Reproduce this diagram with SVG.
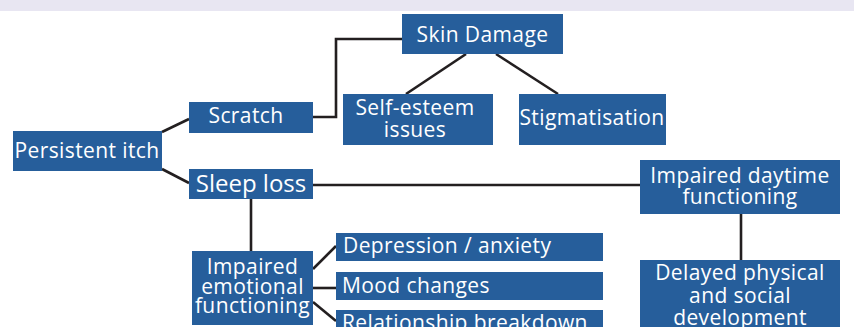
<svg xmlns="http://www.w3.org/2000/svg" width="854" height="327" viewBox="0 0 854 327">
<style>
.box{fill:#265E9B}
.t{fill:#ffffff;font-family:"Open Sans",Lato,"Noto Sans",sans-serif;font-size:21px;letter-spacing:0.4px}
.c{text-anchor:middle}
.ln{stroke:#231F20;stroke-width:2.6;fill:none}
</style>
<rect x="0" y="0" width="854" height="327" fill="#ffffff"/>
<rect x="0" y="0" width="854" height="11" fill="#E8E6F2"/>
<g id="connectors">
<polyline class="ln" points="313,117 336,117 336,39 402,39"/>
<line class="ln" x1="466" y1="54" x2="406" y2="94"/>
<line class="ln" x1="496" y1="54" x2="558" y2="94"/>
<line class="ln" x1="162" y1="132" x2="189" y2="119"/>
<line class="ln" x1="162" y1="169" x2="189" y2="183"/>
<line class="ln" x1="313" y1="185" x2="640" y2="185"/>
<line class="ln" x1="251" y1="199" x2="251" y2="251"/>
<line class="ln" x1="741" y1="214" x2="741" y2="260"/>
<line class="ln" x1="313" y1="269" x2="336" y2="246"/>
<line class="ln" x1="313" y1="288" x2="336" y2="288"/>
<line class="ln" x1="313" y1="302" x2="336" y2="321"/>
</g>
<g id="persistent-itch"><rect class="box" x="13" y="131" width="149" height="40"/><text class="t c" x="87" y="158">Persistent itch</text></g>
<g id="scratch"><rect class="box" x="189" y="102" width="124" height="31"/><text class="t c" x="246" y="123">Scratch</text></g>
<g id="sleep-loss"><rect class="box" x="189" y="169" width="124" height="30"/><text class="t c" x="251" y="192" style="font-size:24px;letter-spacing:0">Sleep loss</text></g>
<g id="skin-damage"><rect class="box" x="402" y="14" width="161" height="40"/><text class="t c" x="482.5" y="42">Skin Damage</text></g>
<g id="self-esteem"><rect class="box" x="343" y="94" width="150" height="51"/><text class="t c" x="415" y="115">Self-esteem</text><text class="t c" x="415" y="137">issues</text></g>
<g id="stigmatisation"><rect class="box" x="519" y="94" width="147" height="51"/><text class="t c" x="592" y="125">Stigmatisation</text></g>
<g id="impaired-daytime"><rect class="box" x="640" y="160" width="200" height="54"/><text class="t c" x="740" y="183">Impaired daytime</text><text class="t c" x="740" y="204">functioning</text></g>
<g id="delayed-development"><rect class="box" x="640" y="260" width="200" height="80"/><text class="t c" x="740" y="280">Delayed physical</text><text class="t c" x="740" y="303">and social</text><text class="t c" x="740" y="325">development</text></g>
<g id="impaired-emotional"><rect class="box" x="192" y="251" width="121" height="74"/><text class="t c" x="252.5" y="274">Impaired</text><text class="t c" x="252.5" y="294">emotional</text><text class="t c" x="252.5" y="313">functioning</text></g>
<g id="depression"><rect class="box" x="336" y="233" width="267" height="28"/><text class="t" x="343" y="253">Depression / anxiety</text></g>
<g id="mood-changes"><rect class="box" x="336" y="272" width="267" height="28"/><text class="t" x="342" y="293">Mood changes</text></g>
<g id="relationship"><rect class="box" x="336" y="310" width="267" height="30"/><text class="t" x="342" y="330">Relationship breakdown</text></g>
</svg>
